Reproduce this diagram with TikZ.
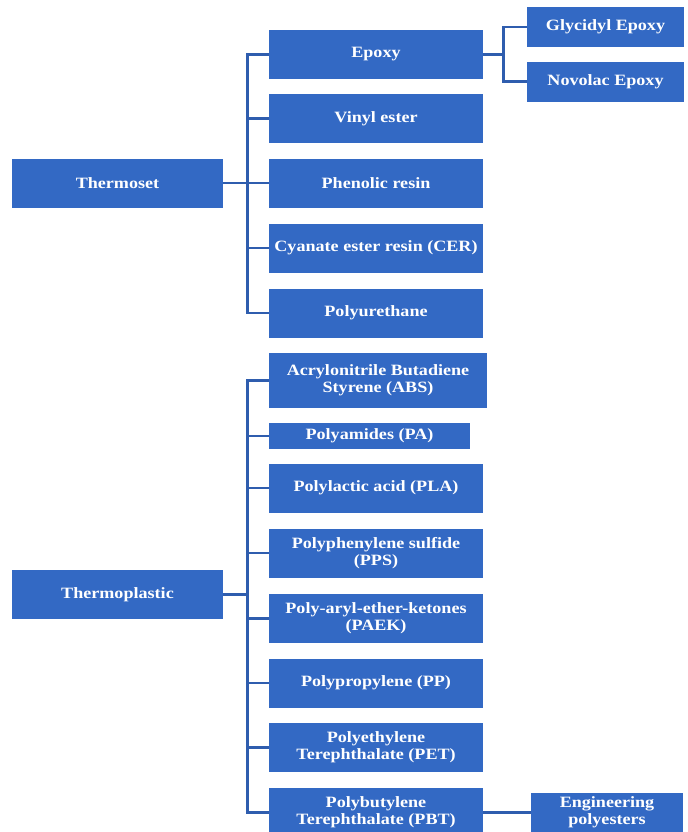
\documentclass[tikz,border=0pt]{standalone}
\usepackage{fontspec}
\newfontfamily\boxfont{Liberation Serif}[FakeStretch=1.15]
\usepackage{tikz}
\definecolor{boxblue}{HTML}{3369C4}
\definecolor{linkblue}{HTML}{2F5DAE}
\tikzset{
  box/.style={fill=boxblue, text=white, align=center, inner sep=0pt,
    font=\boxfont\bfseries\fontsize{11.8}{12.75}\selectfont},
  rootbox/.style={box, minimum width=158.25pt, minimum height=36.75pt},
  kindbox/.style={box, minimum width=160.5pt, minimum height=36.75pt},
  subbox/.style={box, minimum width=117.75pt, minimum height=30pt},
  link/.style={draw=linkblue, line width=2pt},
}

\begin{document}
\begin{tikzpicture}[x=0.75pt, y=-0.75pt]
  \clip (0,0) rectangle (688,832);

  % thermoset branch
  \node[rootbox] (thermoset) at (117.5,183) {Thermoset};
  \node[kindbox] (epoxy) at (376,54.5) {Epoxy};
  \node[kindbox] (vinyl) at (376,118.5) {Vinyl ester};
  \node[kindbox] (phenolic) at (376,183) {Phenolic resin};
  \node[kindbox] (cer) at (376,248) {Cyanate ester resin (CER)};
  \node[kindbox] (pu) at (376,313) {Polyurethane};
  \node[subbox] (glycidyl) at (605.5,27) {Glycidyl Epoxy};
  \node[subbox] (novolac) at (605.5,81.5) {Novolac Epoxy};

  \path (thermoset.east) ++(24,0) coordinate (tsbus);
  \path (epoxy.east) ++(20,0) coordinate (epbus);
  \draw[link] (thermoset.east) -- (tsbus);
  \draw[link] (epoxy.west) -| (tsbus) |- (pu.west);
  \foreach \n in {vinyl,phenolic,cer}
    \draw[link] (tsbus |- \n.west) -- (\n.west);
  \draw[link] (epoxy.east) -- (epbus);
  \draw[link] (glycidyl.west) -| (epbus) |- (novolac.west);

  % thermoplastic branch
  \node[rootbox] (thermoplastic) at (117.5,594.5) {Thermoplastic};
  \node[kindbox, minimum width=163.5pt, minimum height=41.25pt] (abs) at (378,380.5)
    {Acrylonitrile Butadiene\\Styrene (ABS)};
  \node[kindbox, minimum width=150.75pt, minimum height=19.5pt] (pa) at (369.5,436)
    {Polyamides (PA)};
  \node[kindbox] (pla) at (376,488) {Polylactic acid (PLA)};
  \node[kindbox] (pps) at (376,553) {Polyphenylene sulfide\\(PPS)};
  \node[kindbox] (paek) at (376,618.5) {Poly-aryl-ether-ketones\\(PAEK)};
  \node[kindbox] (pp) at (376,683) {Polypropylene (PP)};
  \node[kindbox] (pet) at (376,747.5) {Polyethylene\\Terephthalate (PET)};
  \node[kindbox] (pbt) at (376,812.5) {Polybutylene\\Terephthalate (PBT)};
  \node[subbox, minimum width=114pt, minimum height=29.25pt] (eng) at (607,812.5)
    {Engineering\\polyesters};

  \path (thermoplastic.east) ++(24,0) coordinate (tpbus);
  \draw[link] (thermoplastic.east) -- (tpbus);
  \draw[link] (abs.west) -| (tpbus) |- (pbt.west);
  \foreach \n in {pa,pla,pps,paek,pp,pet}
    \draw[link] (tpbus |- \n.west) -- (\n.west);
  \draw[link] (pbt.east) -- (eng.west);
\end{tikzpicture}
\end{document}
